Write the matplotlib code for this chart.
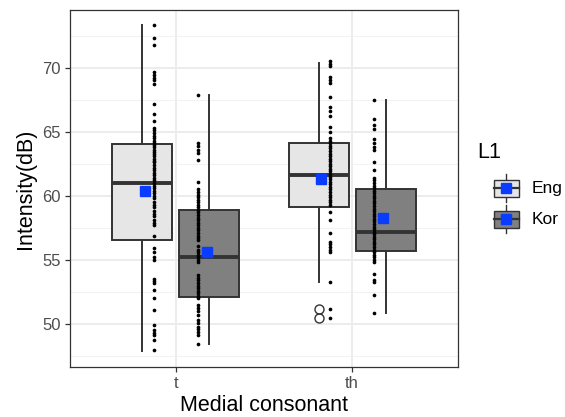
import matplotlib.pyplot as plt
from matplotlib.patches import Rectangle

plt.rcParams['font.family'] = ['Liberation Sans', 'DejaVu Sans']

# categories and groups
consonants = ["t", "th"]
groups = ["Eng", "Kor"]
fills = {"Eng": "#E6E6E6", "Kor": "#808080"}

# box statistics: (low whisker, q1, median, q3, high whisker)
box_stats = {
    ("t", "Eng"): (47.9, 56.55, 61.0, 64.05, 73.3),
    ("t", "Kor"): (48.4, 52.1, 55.2, 58.9, 67.85),
    ("th", "Eng"): (53.25, 59.15, 61.6, 64.1, 70.4),
    ("th", "Kor"): (50.85, 55.7, 57.15, 60.5, 67.5),
}
outliers = {
    ("t", "Eng"): [],
    ("t", "Kor"): [],
    ("th", "Eng"): [51.2, 50.5],
    ("th", "Kor"): [],
}
means = {
    ("t", "Eng"): 60.35,
    ("t", "Kor"): 55.6,
    ("th", "Eng"): 61.3,
    ("th", "Kor"): 58.25,
}

# raw observations (dots)
eng_t = [73.3, 72.3, 71.8, 69.7, 69.45, 69.2, 69.0, 68.7, 67.2, 66.4, 65.85,
         65.3, 65.1, 64.9, 64.7, 64.5, 64.3, 64.15, 64.0, 63.8, 63.6, 63.4,
         63.3, 63.1, 62.9, 62.7, 62.6, 62.4, 62.2, 62.0, 61.8, 61.6, 61.4,
         61.2, 61.0, 60.8, 60.6, 60.4, 60.2, 60.0, 59.8, 59.5, 59.3, 59.1,
         58.8, 58.6, 58.4, 58.1, 57.9, 57.7, 56.9, 55.9, 55.6, 55.2, 55.0,
         53.5, 53.35, 53.2, 52.65, 52.0, 51.1, 49.9, 49.5, 49.3, 49.1, 48.75,
         48.0]
kor_t = [67.85, 64.1, 63.85, 63.6, 63.35, 62.8, 61.1, 60.5, 60.3, 60.1, 59.9,
         59.7, 59.5, 59.3, 59.1, 58.9, 58.7, 58.5, 58.3, 58.1, 57.9, 57.7,
         57.5, 57.3, 57.1, 56.9, 56.7, 56.55, 56.1, 55.8, 55.6, 55.4, 55.2,
         55.0, 54.85, 53.8, 53.6, 53.4, 53.2, 53.0, 52.8, 52.6, 52.4, 52.2,
         52.0, 51.5, 51.25, 51.0, 50.7, 50.3, 50.05, 49.8, 49.6, 49.4, 49.15,
         48.4]
eng_th = [70.5, 70.3, 70.1, 69.3, 69.0, 68.8, 67.7, 66.9, 66.6, 66.2, 65.4,
          65.0, 64.5, 64.3, 64.1, 63.9, 63.7, 63.5, 63.3, 63.1, 62.9, 62.7,
          62.5, 62.3, 62.1, 61.9, 61.7, 61.5, 61.3, 61.1, 60.9, 60.7, 60.5,
          60.3, 60.1, 59.9, 59.7, 59.5, 59.3, 58.7, 58.1, 57.1, 56.4, 56.2,
          56.0, 55.8, 55.6, 53.3, 51.2, 50.5]
kor_th = [67.5, 66.0, 65.5, 65.2, 64.4, 64.1, 63.8, 63.6, 62.65, 62.0, 61.4,
          61.2, 61.0, 60.8, 60.6, 60.4, 60.2, 60.0, 59.8, 59.6, 59.4, 59.2,
          59.0, 58.8, 58.6, 58.4, 58.2, 58.0, 57.8, 57.6, 57.4, 57.2, 57.0,
          56.8, 56.6, 56.4, 56.2, 56.0, 55.8, 55.6, 55.4, 55.2, 55.0, 54.8,
          53.9, 53.45, 53.3, 52.25, 50.85]
dots = {
    ("t", "Eng"): eng_t,
    ("t", "Kor"): kor_t,
    ("th", "Eng"): eng_th,
    ("th", "Kor"): kor_th,
}

edge = "#333333"
fig = plt.figure(figsize=(5.65, 4.17), dpi=100)
ax = fig.add_axes([70 / 565, 50 / 417, 388 / 565, 357 / 417])

box_off = 0.19
box_w = 0.34
dot_off = 0.125
mean_off = 0.176

for i, c in enumerate(consonants):
    xc = i + 1
    for j, g in enumerate(groups):
        sign = -1 if j == 0 else 1
        lo, q1, med, q3, hi = box_stats[(c, g)]
        st = [dict(whislo=lo, q1=q1, med=med, q3=q3, whishi=hi,
                   fliers=outliers[(c, g)])]
        ax.bxp(st, positions=[xc + sign * box_off], widths=box_w,
               patch_artist=True, showcaps=False, showfliers=True,
               boxprops=dict(facecolor=fills[g], edgecolor=edge, linewidth=1.4),
               whiskerprops=dict(color=edge, linewidth=1.4),
               medianprops=dict(color=edge, linewidth=2.8),
               flierprops=dict(marker="o", markersize=6.5, markerfacecolor="none",
                               markeredgecolor=edge, markeredgewidth=1.0),
               zorder=2)
        ys = dots[(c, g)]
        ax.scatter([xc + sign * dot_off] * len(ys), ys, s=7, color="black",
                   linewidths=0, zorder=3)
        ax.plot(xc + sign * mean_off, means[(c, g)], marker="s", markersize=7,
                color="#0A3CFF", zorder=4)

ax.set_xlim(0.4, 2.6)
ax.set_ylim(46.64, 74.5)
ax.set_xticks([1, 2])
ax.set_xticklabels(consonants)
ax.set_yticks([50, 55, 60, 65, 70])
ax.set_yticks([47.5, 52.5, 57.5, 62.5, 67.5, 72.5], minor=True)
ax.grid(True, which="major", color="#EBEBEB", linewidth=1.3, zorder=0)
ax.grid(True, which="minor", axis="y", color="#F2F2F2", linewidth=0.8, zorder=0)
ax.set_axisbelow(True)
for sp in ax.spines.values():
    sp.set_color(edge)
    sp.set_linewidth(0.9)
ax.tick_params(which="major", length=3.5, width=0.9, color=edge,
               labelcolor="#4D4D4D", labelsize=12, pad=3)
ax.tick_params(which="minor", length=0)
ax.set_xlabel("Medial consonant", fontsize=15.5, labelpad=3)
ax.set_ylabel("Intensity(dB)", fontsize=15.5, labelpad=5)

# legend drawn in pixel coordinates
lax = fig.add_axes([0, 0, 1, 1])
lax.set_xlim(0, 565)
lax.set_ylim(417, 0)
lax.axis("off")
lax.text(477, 153, "L1", fontsize=15.5, va="center", ha="left")
for k, g in enumerate(groups):
    yc = 188 + k * 31
    lax.plot([506, 506], [yc - 14, yc + 14], color=edge, linewidth=1.0)
    lax.add_patch(Rectangle((493.5, yc - 8.5), 25, 17, facecolor=fills[g],
                            edgecolor=edge, linewidth=1.0, zorder=2))
    lax.plot([493.5, 518.5], [yc, yc], color=edge, linewidth=1.6, zorder=3)
    lax.plot(506, yc, marker="s", markersize=7, color="#0A3CFF", zorder=4)
    lax.text(532, yc, g, fontsize=12.5, va="center", ha="left")

fig.savefig("out.png", dpi=100)
